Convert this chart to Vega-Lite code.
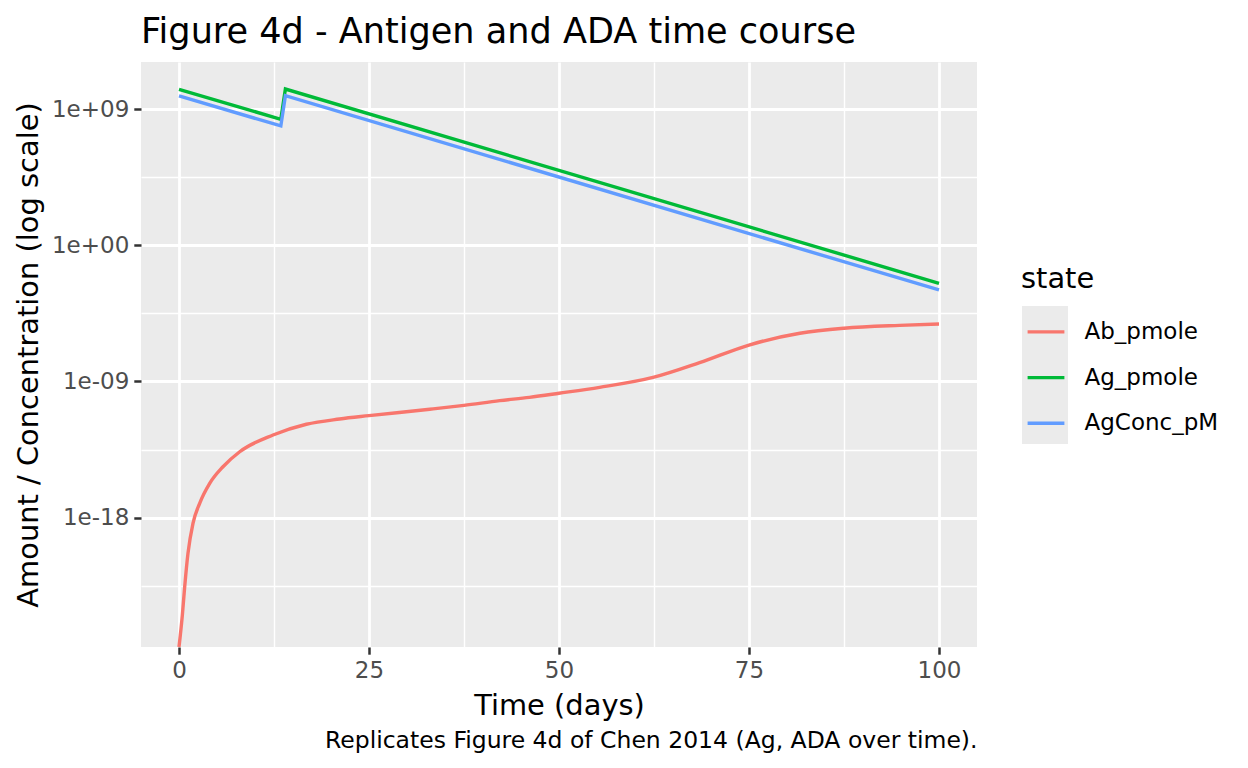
{
  "$schema": "https://vega.github.io/schema/vega-lite/v6.json",
  "width": 836,
  "height": 585,
  "autosize": {"type": "none"},
  "padding": {"left": 141, "top": 62, "right": 271, "bottom": 121},
  "background": "white",
  "view": {"fill": "#EBEBEB", "stroke": null},
  "title": {
    "text": "Figure 4d - Antigen and ADA time course",
    "anchor": "start",
    "frame": "group",
    "font": "DejaVu Sans",
    "fontSize": 35.1,
    "fontWeight": "normal",
    "color": "black",
    "baseline": "alphabetic",
    "offset": -16
  },
  "data": {
    "values": [
      {"t": 0, "value": 2.75e-27, "state": "Ab_pmole"},
      {"t": 0.45, "value": 3.98e-25, "state": "Ab_pmole"},
      {"t": 0.75, "value": 2.69e-23, "state": "Ab_pmole"},
      {"t": 1.18, "value": 4.27e-21, "state": "Ab_pmole"},
      {"t": 1.84, "value": 4.17e-19, "state": "Ab_pmole"},
      {"t": 2.72, "value": 8.71e-18, "state": "Ab_pmole"},
      {"t": 4.04, "value": 1.82e-16, "state": "Ab_pmole"},
      {"t": 5.79, "value": 2.29e-15, "state": "Ab_pmole"},
      {"t": 7.99, "value": 2.24e-14, "state": "Ab_pmole"},
      {"t": 12.37, "value": 2.88e-13, "state": "Ab_pmole"},
      {"t": 16.76, "value": 1.48e-12, "state": "Ab_pmole"},
      {"t": 21.14, "value": 3.31e-12, "state": "Ab_pmole"},
      {"t": 25, "value": 5.5e-12, "state": "Ab_pmole"},
      {"t": 33, "value": 1.45e-11, "state": "Ab_pmole"},
      {"t": 37.5, "value": 2.63e-11, "state": "Ab_pmole"},
      {"t": 42.2, "value": 5.37e-11, "state": "Ab_pmole"},
      {"t": 46.1, "value": 8.91e-11, "state": "Ab_pmole"},
      {"t": 50, "value": 1.66e-10, "state": "Ab_pmole"},
      {"t": 55.35, "value": 4.07e-10, "state": "Ab_pmole"},
      {"t": 62.5, "value": 1.91e-9, "state": "Ab_pmole"},
      {"t": 68.5, "value": 1.74e-8, "state": "Ab_pmole"},
      {"t": 75, "value": 2.57e-7, "state": "Ab_pmole"},
      {"t": 81.7, "value": 1.55e-6, "state": "Ab_pmole"},
      {"t": 87.5, "value": 3.31e-6, "state": "Ab_pmole"},
      {"t": 94.8, "value": 5.13e-6, "state": "Ab_pmole"},
      {"t": 100, "value": 6.31e-6, "state": "Ab_pmole"},
      {"t": 0, "value": 2.09e10, "state": "Ag_pmole"},
      {"t": 13.4, "value": 2.19e8, "state": "Ag_pmole"},
      {"t": 14, "value": 2.19e10, "state": "Ag_pmole"},
      {"t": 100, "value": 3.09e-3, "state": "Ag_pmole"},
      {"t": 0, "value": 7.59e9, "state": "AgConc_pM"},
      {"t": 13.4, "value": 7.94e7, "state": "AgConc_pM"},
      {"t": 14, "value": 7.94e9, "state": "AgConc_pM"},
      {"t": 100, "value": 1.12e-3, "state": "AgConc_pM"}
    ]
  },
  "layer": [
    {
      "transform": [{"filter": "datum.t < -100"}],
      "mark": {"type": "point", "filled": true},
      "encoding": {
        "x": {
          "field": "t",
          "type": "quantitative",
          "scale": {"domain": [-5, 105], "nice": false, "zero": false},
          "axis": {
            "orient": "bottom",
            "values": [12.5, 37.5, 62.5, 87.5],
            "domain": false,
            "ticks": false,
            "labels": false,
            "grid": true,
            "gridColor": "white",
            "gridWidth": 1.4,
            "title": "Replicates Figure 4d of Chen 2014 (Ag, ADA over time).",
            "titleFont": "DejaVu Sans",
            "titleFontSize": 23.5,
            "titleFontWeight": "normal",
            "titleColor": "black",
            "titleAnchor": "end",
            "titleBaseline": "alphabetic",
            "titleY": 100
          }
        },
        "y": {
          "field": "value",
          "type": "quantitative",
          "scale": {"type": "log", "domain": [2.75e-27, 1.34e12], "nice": false, "zero": false},
          "axis": {
            "orient": "left",
            "values": [3.162e-23, 3.162e-14, 3.162e-5, 31620],
            "domain": false,
            "ticks": false,
            "labels": false,
            "grid": true,
            "gridColor": "white",
            "gridWidth": 1.4,
            "title": null
          }
        },
        "fill": {
          "field": "state",
          "type": "nominal",
          "scale": {
            "domain": ["AgConc_pM", "Ag_pmole", "Ab_pmole"],
            "range": ["#EBEBEB", "#EBEBEB", "#EBEBEB"]
          },
          "legend": {
            "orient": "none",
            "legendX": 881,
            "legendY": 244,
            "padding": 0,
            "title": null,
            "labelExpr": "''",
            "labelFontSize": 23,
            "labelOffset": 0,
            "symbolType": "square",
            "symbolSize": 2116,
            "symbolStrokeWidth": 0,
            "symbolOpacity": 1,
            "rowPadding": 0
          }
        }
      }
    },
    {
      "transform": [{"filter": "datum.state === 'Ab_pmole'"}],
      "mark": {"type": "line", "interpolate": "monotone", "strokeWidth": 3.4, "clip": true},
      "encoding": {
        "x": {
          "field": "t",
          "type": "quantitative",
          "axis": {
            "orient": "bottom",
            "values": [0, 25, 50, 75, 100],
            "domain": false,
            "grid": true,
            "gridColor": "white",
            "gridWidth": 2.8,
            "tickSize": 7.2,
            "tickWidth": 2.5,
            "tickColor": "#333333",
            "labelFont": "DejaVu Sans",
            "labelFontSize": 23,
            "labelColor": "#4D4D4D",
            "labelPadding": 5,
            "labelFlush": false,
            "labelOverlap": false,
            "title": "Time (days)",
            "titleFont": "DejaVu Sans",
            "titleFontSize": 28.9,
            "titleFontWeight": "normal",
            "titleColor": "black",
            "titleBaseline": "alphabetic",
            "titleY": 67
          }
        },
        "y": {
          "field": "value",
          "type": "quantitative",
          "axis": {
            "orient": "left",
            "values": [1e-18, 1e-9, 1, 1e9],
            "labelExpr": "datum.value > 1e8 ? '1e+09' : datum.value > 0.1 ? '1e+00' : datum.value > 1e-10 ? '1e-09' : '1e-18'",
            "domain": false,
            "grid": true,
            "gridColor": "white",
            "gridWidth": 2.8,
            "tickSize": 7.2,
            "tickWidth": 2.5,
            "tickColor": "#333333",
            "labelFont": "DejaVu Sans",
            "labelFontSize": 23,
            "labelColor": "#4D4D4D",
            "labelPadding": 5,
            "labelOverlap": false,
            "title": "Amount / Concentration (log scale)",
            "titleFont": "DejaVu Sans",
            "titleFontSize": 28.9,
            "titleFontWeight": "normal",
            "titleColor": "black",
            "titlePadding": 8
          }
        },
        "stroke": {
          "field": "state",
          "type": "nominal",
          "scale": {
            "domain": ["Ab_pmole", "Ag_pmole", "AgConc_pM"],
            "range": ["#F8766D", "#00BA38", "#619CFF"]
          },
          "legend": {
            "orient": "none",
            "legendX": 880,
            "legendY": 203,
            "padding": 0,
            "title": "state",
            "titleFont": "DejaVu Sans",
            "titleFontSize": 28.9,
            "titleFontWeight": "normal",
            "titleColor": "black",
            "titlePadding": 13,
            "labelFont": "DejaVu Sans",
            "labelFontSize": 23,
            "labelColor": "black",
            "labelOffset": 13.5,
            "symbolType": "M-0.8,0L0.8,0",
            "symbolSize": 2116,
            "symbolStrokeWidth": 3.4,
            "rowPadding": 8.7
          }
        }
      }
    },
    {
      "transform": [{"filter": "datum.state !== 'Ab_pmole'"}],
      "mark": {"type": "line", "strokeWidth": 3.4, "clip": true},
      "encoding": {
        "x": {"field": "t", "type": "quantitative", "axis": null},
        "y": {"field": "value", "type": "quantitative", "axis": null},
        "stroke": {"field": "state", "type": "nominal"}
      }
    }
  ],
  "resolve": {"axis": {"x": "independent", "y": "independent"}}
}
